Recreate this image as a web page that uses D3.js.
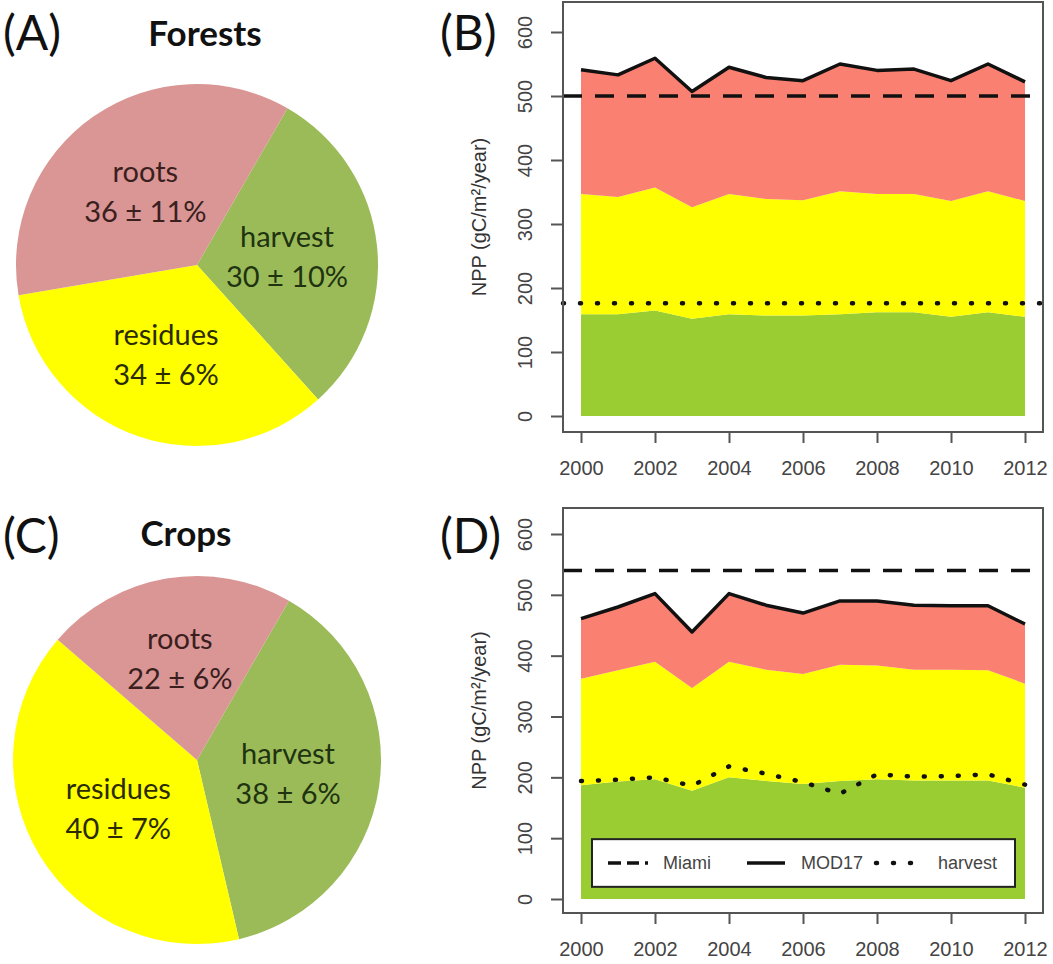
<!DOCTYPE html>
<html><head><meta charset="utf-8">
<script src="https://cdn.jsdelivr.net/npm/d3@7"></script>
<style>html,body{margin:0;padding:0;background:#fff;}svg{display:block;}</style>
</head><body>
<svg id="chart" width="1053" height="964"></svg>
<script>
// ---------- data ----------
const years = [2000,2001,2002,2003,2004,2005,2006,2007,2008,2009,2010,2011,2012];
const xTicks = [2000,2002,2004,2006,2008,2010,2012];
const yTicks = [0,100,200,300,400,500,600];

// Pie shares (%)
const pieCategories = ["harvest","residues","roots"];
const forestShares = [30,34,36];
const forestErrors = [10,6,11];
const cropShares = [38,40,22];
const cropErrors = [6,7,6];

// Forest NPP components (gC/m2/year)
const forestHarvest  = [159,159,165,152,159,157,157,159,162,162,155,162,155];
const forestResidues = [188,183,192,174,188,182,180,192,185,185,181,189,181];
const forestRoots    = [194,191,202,181,198,190,187,199,193,195,188,199,186];
const forestMiami = 500;
const forestHarvestRef = 176;

// Crop NPP components
const cropHarvest  = [187,193,197,178,200,194,189,194,197,195,195,195,183];
const cropResidues = [175,183,193,169,190,183,181,191,187,182,182,181,171];
const cropRoots    = [99,104,112,92,112,106,100,105,106,106,105,106,98];
const cropMiami = 540;
const cropHarvestObs = [194,196,200,186,218,206,192,173,205,201,202,205,188];

const legendLabels = ["Miami","MOD17","harvest"];

// ---------- styling ----------
const pieColors = {harvest:"#9BBB59", residues:"#FFFF00", roots:"#D99694"};
const pieText = {harvest:"#1f3310", residues:"#2b2b00", roots:"#3b1f1f"};
const areaColors = {harvest:"#9ACD32", residues:"#FFFF00", roots:"#FA8072"};
const svg = d3.select("#chart");
const pieFont = "Lato, 'Open Sans', sans-serif";
const axFont = "'Liberation Sans', Arial, sans-serif";

// ---------- pies ----------
function drawPie(cx, cy, r, shares, errors, title, titleX, titleY, tag, tagY, labR){
  const data = pieCategories.map((k,i)=>({key:k, value:shares[i], err:errors[i]}));
  const pie = d3.pie().sort(null).value(d=>d.value).startAngle(30*Math.PI/180).endAngle(390*Math.PI/180);
  const arc = d3.arc().innerRadius(0).outerRadius(r);
  const g = svg.append("g").attr("transform",`translate(${cx},${cy})`);
  const arcs = pie(data);
  g.selectAll("path").data(arcs).join("path")
    .attr("d",arc).attr("fill",d=>pieColors[d.data.key]);
  const t = g.selectAll("text").data(arcs).join("text")
    .attr("transform",d=>{
      const rr = r*labR[d.data.key];
      const c = d3.arc().innerRadius(rr).outerRadius(rr).centroid(d);
      return `translate(${c[0]},${c[1]})`;})
    .attr("text-anchor","middle").attr("font-family",pieFont).attr("font-size",29)
    .attr("fill",d=>pieText[d.data.key]);
  t.append("tspan").attr("x",0).attr("y",-9).text(d=>d.data.key);
  t.append("tspan").attr("x",0).attr("y",31).text(d=>`${d.data.value} ± ${d.data.err}%`);
  svg.append("text").attr("x",titleX).attr("y",titleY).attr("text-anchor","middle")
    .attr("font-family",pieFont).attr("font-weight","bold").attr("font-size",35).attr("fill","#111").text(title);
  svg.append("text").attr("x",3).attr("y",tagY).attr("font-family",pieFont)
    .attr("font-size",48).attr("fill","#111").text(tag);
}
drawPie(197,265,181,forestShares,forestErrors,"Forests",205,46,"(A)",50,{harvest:0.5,residues:0.52,roots:0.5});
drawPie(197,760,184,cropShares,cropErrors,"Crops",186,546,"(C)",553,{harvest:0.5,residues:0.5,roots:0.56});

// ---------- stacked area panels ----------
function drawPanel(opt){
  const x = d3.scaleLinear().domain([2000,2012]).range([581,1025]);
  const y = d3.scaleLinear().domain([0,600]).range([opt.y0, opt.y600]);
  const g = svg.append("g");
  const rows = years.map((yr,i)=>({year:yr, harvest:opt.harvest[i], residues:opt.residues[i], roots:opt.roots[i]}));
  const series = d3.stack().keys(pieCategories)(rows);
  const area = d3.area().x(d=>x(d.data.year)).y0(d=>y(d[0])).y1(d=>y(d[1]));
  g.selectAll("path.area").data(series).join("path").attr("class","area")
    .attr("d",area).attr("fill",d=>areaColors[d.key]);
  // MOD17 total line
  const line = d3.line().x(d=>x(d.data.year)).y(d=>y(d[1]));
  g.append("path").attr("d",line(series[2])).attr("fill","none")
    .attr("stroke","#111").attr("stroke-width",3.5).attr("stroke-linejoin","round");
  // Miami dashed
  g.append("line").attr("x1",opt.left).attr("x2",opt.right).attr("y1",y(opt.miami)).attr("y2",y(opt.miami))
    .attr("stroke","#111").attr("stroke-width",3.5).attr("stroke-dasharray","19,13");
  // harvest dotted
  if (opt.harvestRef !== undefined){
    g.append("line").attr("x1",opt.left).attr("x2",opt.right).attr("y1",y(opt.harvestRef)).attr("y2",y(opt.harvestRef))
      .attr("stroke","#111").attr("stroke-width",4.5).attr("stroke-linecap","round").attr("stroke-dasharray","1,16");
  }
  if (opt.harvestObs){
    const l2 = d3.line().x((d,i)=>x(years[i])).y(d=>y(d));
    g.append("path").attr("d",l2(opt.harvestObs)).attr("fill","none")
      .attr("stroke","#111").attr("stroke-width",4.5).attr("stroke-linecap","round").attr("stroke-dasharray","1,16");
  }
  // box
  g.append("rect").attr("x",opt.left).attr("y",opt.top).attr("width",opt.right-opt.left).attr("height",opt.bottom-opt.top)
    .attr("fill","none").attr("stroke","#555").attr("stroke-width",2);
  // x axis
  const xa = svg.append("g").attr("transform",`translate(0,${opt.bottom})`)
    .call(d3.axisBottom(x).tickValues(xTicks).tickFormat(d3.format("d")).tickSize(11).tickPadding(18));
  xa.select(".domain").remove();
  xa.selectAll("line").attr("stroke","#555").attr("stroke-width",2);
  xa.selectAll("text").attr("font-family",axFont).attr("font-size",20).attr("fill","#444");
  // y axis
  const ya = svg.append("g").attr("transform",`translate(${opt.left},0)`)
    .call(d3.axisLeft(y).tickValues(yTicks).tickSize(12).tickFormat(d3.format("d")));
  ya.select(".domain").remove();
  ya.selectAll("line").attr("stroke","#555").attr("stroke-width",2);
  ya.selectAll("text").attr("font-family",axFont).attr("font-size",20).attr("fill","#444")
    .attr("x",0).attr("dy",0).attr("text-anchor","middle")
    .attr("transform","translate(-38,0) rotate(-90)").attr("dominant-baseline","central");
  // y label
  const cy = (opt.top+opt.bottom)/2;
  svg.append("text").attr("transform",`translate(479,${cy}) rotate(-90)`).attr("text-anchor","middle")
    .attr("dominant-baseline","central")
    .attr("font-family",axFont).attr("font-size",20).attr("fill","#333")
    .text("NPP (gC/m²/year)");
  // tag
  svg.append("text").attr("x",440).attr("y",opt.tagY).attr("font-family",pieFont)
    .attr("font-size",48).attr("fill","#111").text(opt.tag);
  return {x,y};
}

drawPanel({y0:416,y600:32,top:2,bottom:432,left:563,right:1043,
  harvest:forestHarvest,residues:forestResidues,roots:forestRoots,
  miami:forestMiami,harvestRef:forestHarvestRef,tag:"(B)",tagY:50});

const pD = drawPanel({y0:899,y600:534,top:508,bottom:913,left:563,right:1043,
  harvest:cropHarvest,residues:cropResidues,roots:cropRoots,
  miami:cropMiami,harvestObs:cropHarvestObs,tag:"(D)",tagY:553});

// ---------- legend (panel D) ----------
const lg = svg.append("g");
const lgTop = pD.y(100)+1, lgBot = pD.y(20);
lg.append("rect").attr("x",592).attr("y",lgTop).attr("width",423).attr("height",lgBot-lgTop)
  .attr("fill","#fff").attr("stroke","#222").attr("stroke-width",2);
const ly = (lgTop+lgBot)/2;
const sampleX = [[608,648],[747,785],[876,925]];
const dashes = ["13,6,12,6,3,40","none","1,16"];
const textX = [663,801,938];
legendLabels.forEach((lab,i)=>{
  lg.append("line").attr("x1",sampleX[i][0]).attr("x2",sampleX[i][1]).attr("y1",ly).attr("y2",ly)
    .attr("stroke","#111").attr("stroke-width",i===2?4.5:3.5)
    .attr("stroke-linecap",i===2?"round":"butt").attr("stroke-dasharray",dashes[i]);
  lg.append("text").attr("x",textX[i]).attr("y",ly).attr("dominant-baseline","central")
    .attr("font-family",axFont).attr("font-size",18).attr("fill","#444").text(lab);
});
</script>
</body></html>
